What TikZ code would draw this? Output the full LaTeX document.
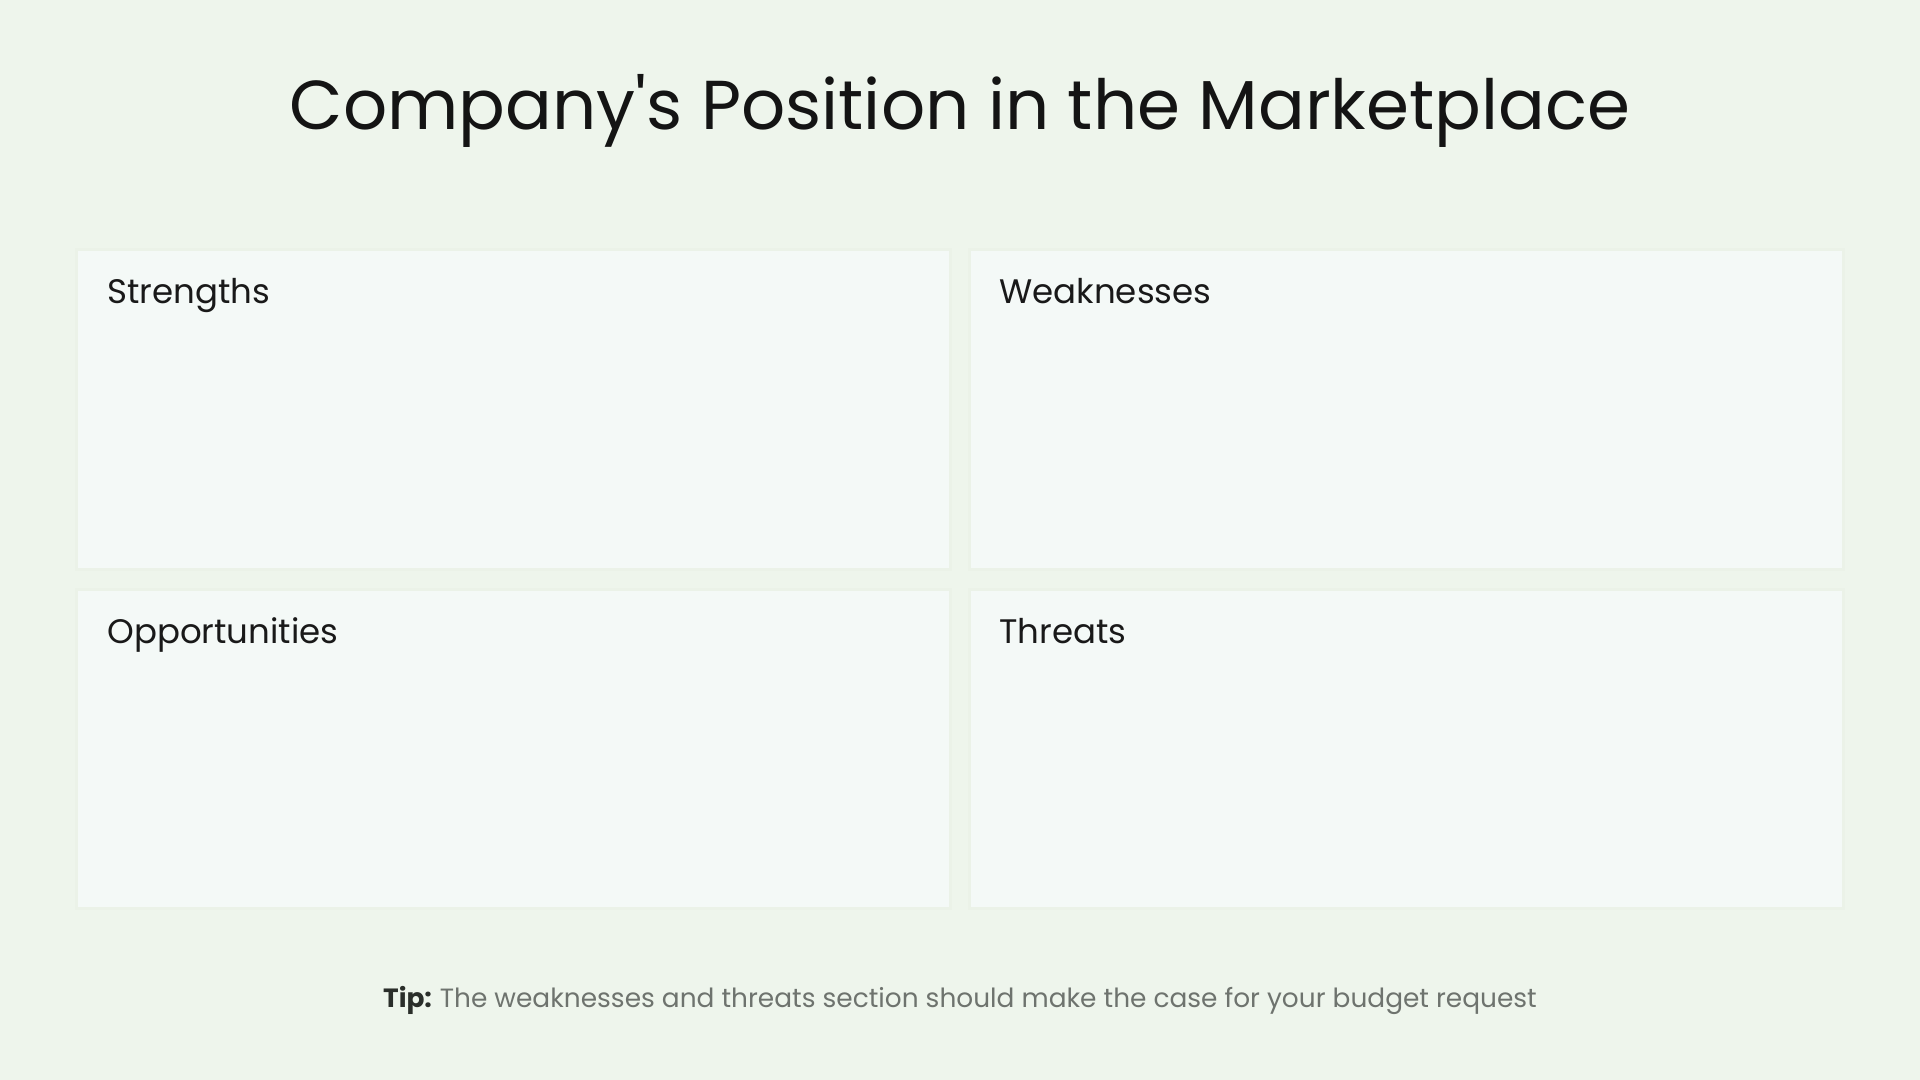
\documentclass[tikz,border=0pt]{standalone}
\usepackage{fontspec}
\setmainfont{Poppins}
\definecolor{bgc}{HTML}{EEF5EC}
\definecolor{boxc}{HTML}{F4F9F7}
\definecolor{boxedge}{HTML}{EBF2E8}
\definecolor{tipgray}{HTML}{6E736E}
\definecolor{tipdark}{HTML}{2A2E2A}
\tikzset{
  quad/.style={fill=boxc, draw=boxedge, line width=1.5pt},
  qlabel/.style={anchor=base west, inner sep=0pt, font=\fontsize{17}{20}\selectfont, text=black!90},
}
\begin{document}
\begin{tikzpicture}[x=0.5pt,y=-0.5pt]
\fill[bgc] (0,0) rectangle (1920,1080);
\useasboundingbox (0,0) rectangle (1920,1080);
\node[anchor=base, inner sep=0pt, font=\fontsize{34.6}{40}\selectfont, text=black!92] (title) at (960,130) {Company\textquotesingle s Position in the Marketplace};
\draw[quad] (76,250) rectangle (950,569);
\draw[quad] (969,250) rectangle (1843,569);
\draw[quad] (76,589) rectangle (950,908);
\draw[quad] (969,589) rectangle (1843,908);
\node[qlabel] (s) at (107,304) {Strengths};
\node[qlabel] (w) at (999,304) {Weaknesses};
\node[qlabel] (o) at (107,643) {Opportunities};
\node[qlabel] (t) at (999,643) {Threats};
\node[anchor=base, inner sep=0pt, font=\fontsize{13.2}{16}\selectfont, text=tipgray] (tip) at (960,1007) {\textbf{\color{tipdark}Tip:}\hspace{0.3em}The weaknesses and threats section should make the case for your budget request};
\end{tikzpicture}
\end{document}
